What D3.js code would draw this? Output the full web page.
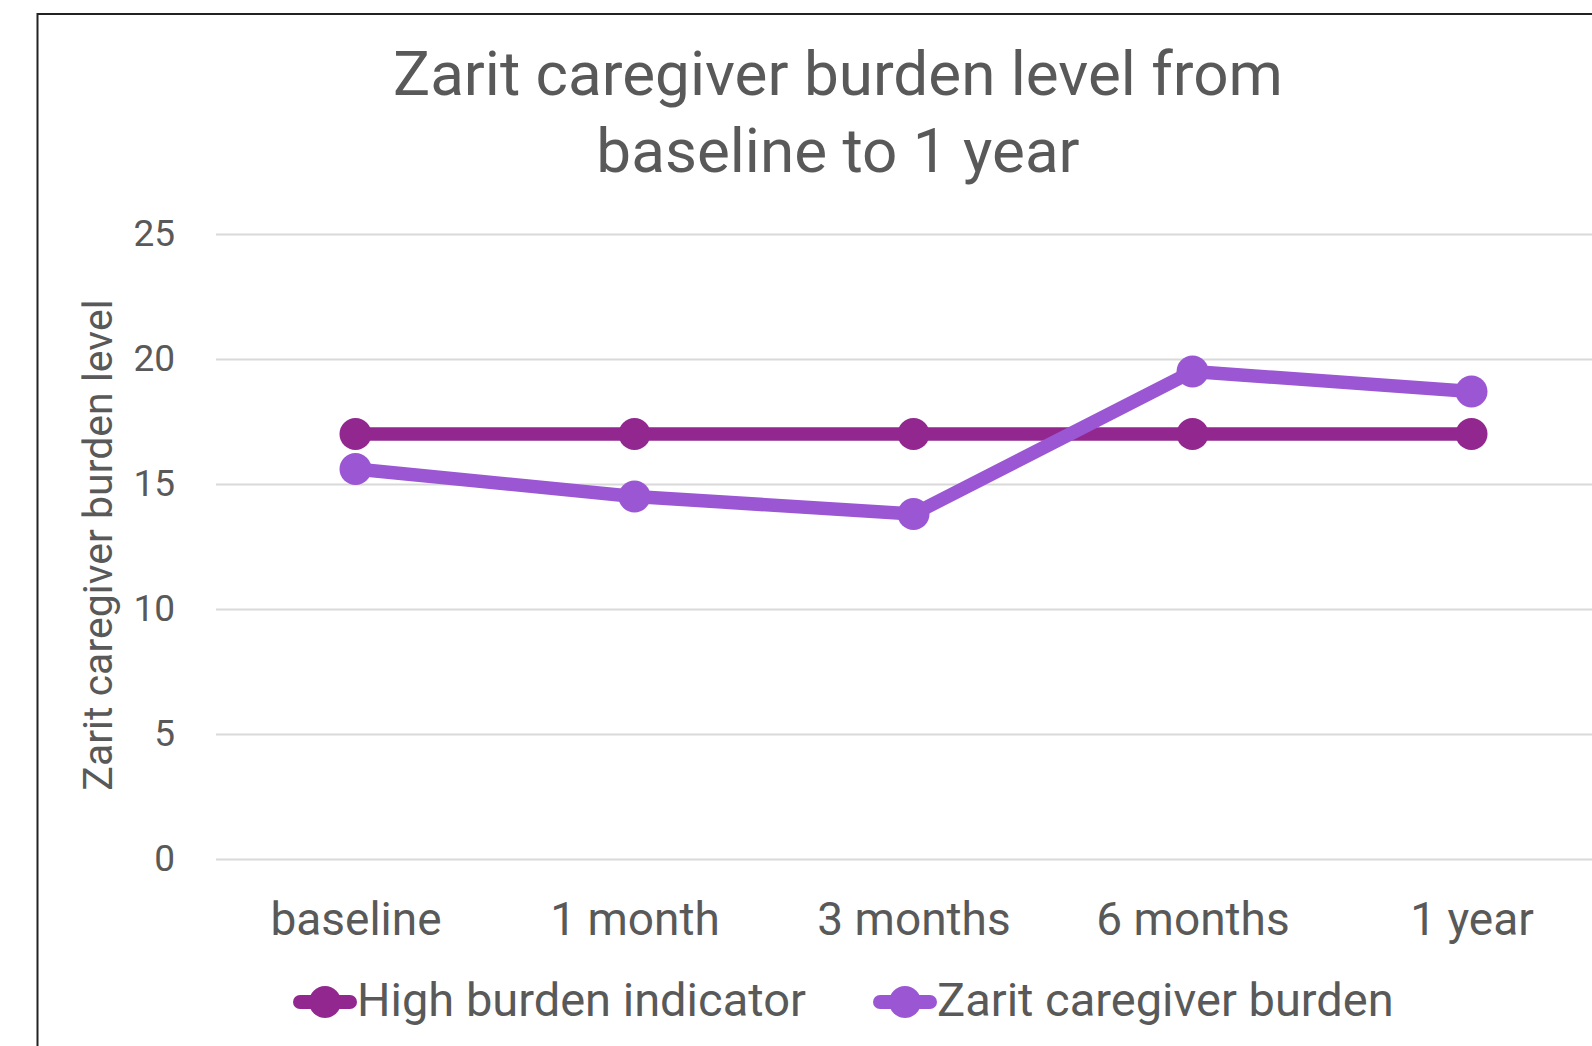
<!DOCTYPE html>
<html>
<head>
<meta charset="utf-8">
<script src="https://cdn.jsdelivr.net/npm/d3@7"></script>
<style>
    html, body { margin: 0; padding: 0; background: #fff; }
    svg { display: block; font-family: Roboto, "Noto Sans", sans-serif; }
</style>
</head>
<body>
<svg class="chart" width="1592" height="1046"></svg>
<script>
const categories = ['baseline', '1 month', '3 months', '6 months', '1 year'];
const highBurden = [17, 17, 17, 17, 17];
const zaritBurden = [15.6, 14.5, 13.8, 19.5, 18.7];
const yTicks = [0, 5, 10, 15, 20, 25];
const seriesNames = ['High burden indicator', 'Zarit caregiver burden'];
const titleLines = ['Zarit caregiver burden level from', 'baseline to 1 year'];
const yTitle = 'Zarit caregiver burden level';

const textColor = '#595959';
const colors = ['#92288F', '#9B57D3'];

const svg = d3.select('svg.chart');

// chart frame, runs off the right and bottom like the source
svg.append('rect')
    .attr('x', 37.5)
    .attr('y', 14)
    .attr('width', 1700)
    .attr('height', 1200)
    .attr('fill', 'none')
    .attr('stroke', '#222')
    .attr('stroke-width', 2);

const x = d3.scalePoint()
    .domain(categories)
    .range([216, 1611])
    .padding(0.5);

const y = d3.scaleLinear()
    .domain([0, 25])
    .range([859, 234]);

// title
svg.append('text')
    .attr('text-anchor', 'middle')
    .attr('fill', textColor)
    .attr('font-size', 62)
    .selectAll('tspan')
    .data(titleLines)
    .join('tspan')
    .attr('x', 838)
    .attr('y', (d, i) => 95 + i * 77)
    .text(d => d);

// gridlines + y labels
const yAxis = d3.axisLeft(y)
    .tickValues(yTicks)
    .tickSize(-(1611 - 216))
    .tickPadding(41);

svg.append('g')
    .attr('transform', 'translate(216,0)')
    .call(yAxis)
    .call(g => g.select('.domain').remove())
    .call(g => g.selectAll('.tick line').attr('stroke', '#D9D9D9').attr('stroke-width', 1.8))
    .call(g => g.selectAll('.tick text')
        .attr('fill', textColor)
        .attr('font-size', 37)
        .attr('font-family', 'Roboto, sans-serif'));

// category labels
const xAxis = d3.axisBottom(x).tickSize(0).tickPadding(0);
svg.append('g')
    .attr('transform', 'translate(0,935)')
    .call(xAxis)
    .call(g => g.select('.domain').remove())
    .call(g => g.selectAll('.tick text')
        .attr('dy', null)
        .attr('y', 0)
        .attr('fill', textColor)
        .attr('font-size', 46)
        .attr('font-family', 'Roboto, sans-serif'));

// y axis title
svg.append('text')
    .attr('transform', 'translate(112,545) rotate(-90)')
    .attr('text-anchor', 'middle')
    .attr('fill', textColor)
    .attr('font-size', 41)
    .text(yTitle);

// series
const line = d3.line()
    .x((d, i) => x(categories[i]))
    .y(d => y(d));

[highBurden, zaritBurden].forEach((values, s) => {
    const g = svg.append('g');
    g.append('path')
        .datum(values)
        .attr('fill', 'none')
        .attr('stroke', colors[s])
        .attr('stroke-width', 13.5)
        .attr('stroke-linejoin', 'round')
        .attr('d', line);
    g.selectAll('circle')
        .data(values)
        .join('circle')
        .attr('cx', (d, i) => x(categories[i]))
        .attr('cy', d => y(d))
        .attr('r', 16)
        .attr('fill', colors[s]);
});

// legend
const legendX = [293, 873];
const legend = svg.append('g')
    .selectAll('g')
    .data(seriesNames)
    .join('g')
    .attr('transform', (d, i) => `translate(${legendX[i]},1002)`);

legend.append('line')
    .attr('x1', 7)
    .attr('x2', 57)
    .attr('stroke', (d, i) => colors[i])
    .attr('stroke-width', 14)
    .attr('stroke-linecap', 'round');
legend.append('circle')
    .attr('cx', 32)
    .attr('r', 16)
    .attr('fill', (d, i) => colors[i]);
legend.append('text')
    .attr('x', 64)
    .attr('y', 14)
    .attr('fill', textColor)
    .attr('font-size', 47)
    .text(d => d);
</script>
</body>
</html>
